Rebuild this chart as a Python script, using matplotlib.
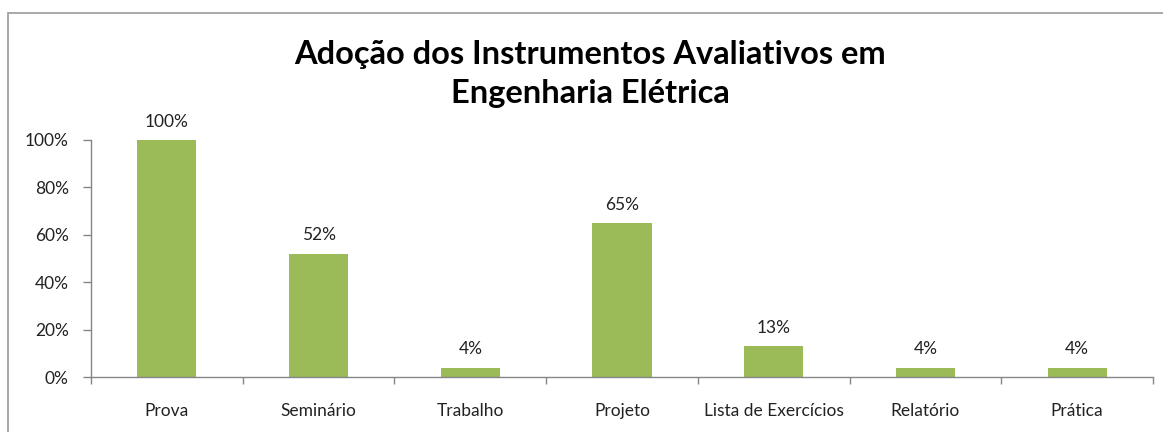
import matplotlib
matplotlib.use("Agg")
import matplotlib.pyplot as plt
from matplotlib.patches import Rectangle
from matplotlib.ticker import FixedLocator, PercentFormatter

categories = ["Prova", "Seminário", "Trabalho", "Projeto", "Lista de Exercícios", "Relatório", "Prática"]
values = [100, 52, 4, 65, 13, 4, 4]
title = "Adoção dos Instrumentos Avaliativos em\nEngenharia Elétrica"

plt.rcParams['font.family'] = ['Lato', 'DejaVu Sans']

W, H = 1163, 432
fig = plt.figure(figsize=(W / 100, H / 100), dpi=100)
ax = fig.add_axes([91 / W, 1 - 377 / H, (1153 - 91) / W, (377 - 140) / H])

x = list(range(len(categories)))
bars = ax.bar(x, values, width=0.39, color="#9BBB59", zorder=2)
for xi, v in zip(x, values):
    ax.annotate(f"{v}%", (xi, v), xytext=(0, 7.5), textcoords="offset points",
                ha="center", va="bottom", fontsize=12.5, color="#222222")

ax.set_xlim(-0.5, len(categories) - 0.5)
ax.set_ylim(0, 100)
ax.set_yticks([0, 20, 40, 60, 80, 100])
ax.yaxis.set_major_formatter(PercentFormatter(decimals=0))
ax.set_xticks(x)
ax.set_xticklabels(categories)
ax.xaxis.set_minor_locator(FixedLocator([i - 0.5 for i in range(len(categories) + 1)]))
ax.tick_params(axis="x", which="major", length=0, pad=19, labelsize=12.5, labelcolor="#222222")
ax.tick_params(axis="x", which="minor", length=5, color="#868686", width=1)
ax.tick_params(axis="y", length=6, color="#868686", width=1, pad=10, labelsize=12.5, labelcolor="#222222")
for s in ["top", "right"]:
    ax.spines[s].set_visible(False)
for s in ["left", "bottom"]:
    ax.spines[s].set_color("#868686")
    ax.spines[s].set_linewidth(1)
ax.spines["left"].set_bounds(0, 100)

fig.text(590 / W, 1 - 74 / H, title, ha="center", va="center", fontsize=23.5,
         fontweight="bold", linespacing=1.45, color="#000000")

fig.patches.append(Rectangle((8 / W, -0.1), 1.2, 1.1 - 13 / H + 0.0, transform=fig.transFigure,
                             fill=False, edgecolor="#9a9a9a", linewidth=1.2))

fig.savefig("out.png", dpi=100)
